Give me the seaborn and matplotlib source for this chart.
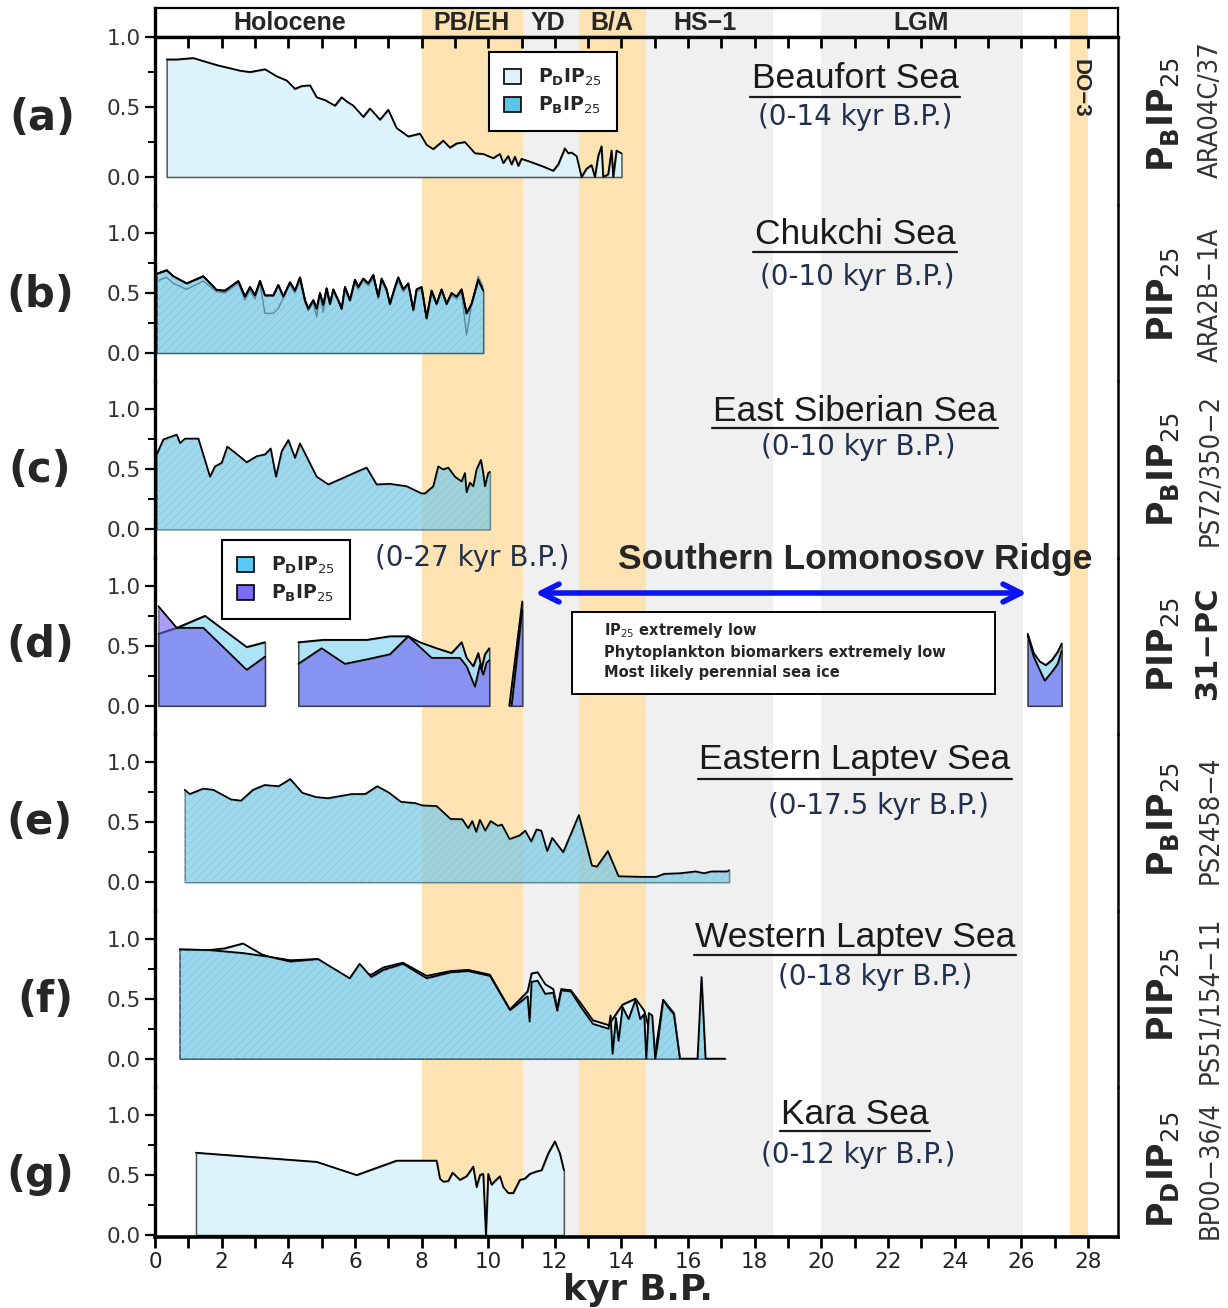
import matplotlib
matplotlib.use('Agg')
import matplotlib.pyplot as plt
import seaborn as sns
from matplotlib.patches import Patch, Rectangle
from matplotlib.lines import Line2D

sns.set_theme(style='white')
plt.rcParams['font.family'] = ['DejaVu Sans']
plt.rcParams['mathtext.fontset'] = 'dejavusans'
plt.rcParams['hatch.linewidth'] = 0.6

# ---------------- data ----------------
epoch_names = ['Holocene', 'PB/EH', 'YD', 'B/A', 'HS\u22121', 'LGM']
epoch_label_x = [4.05, 9.5, 11.8, 13.72, 16.5, 23.0]
band_starts = [8.0, 11.05, 12.72, 14.74, 20.0, 27.45]
band_ends = [11.05, 12.72, 14.74, 18.55, 26.05, 28.0]
band_kinds = ['orange', 'gray', 'orange', 'gray', 'gray', 'orange']

a_x = [0.35,0.65,1.15,1.85,2.55,2.85,3.30,3.65,3.95,4.20,4.40,4.65,4.85,5.10,5.40,5.60,5.75,5.95,6.25,6.45,
       6.75,7.00,7.25,7.60,7.95,8.15,8.35,8.65,8.85,9.05,9.30,9.60,9.85,10.15,10.35,10.45,10.60,10.70,10.80,10.90,
       11.00,11.25,11.65,11.95,12.10,12.30,12.40,12.50,12.65,12.80,12.95,13.10,13.20,13.30,13.40,13.45,13.60,13.70,13.75,13.85,
       13.95,14.00]
a_pd = [0.84,0.84,0.85,0.80,0.76,0.75,0.77,0.72,0.69,0.63,0.65,0.655,0.57,0.55,0.51,0.57,0.54,0.51,0.43,0.49,
        0.41,0.48,0.35,0.29,0.31,0.23,0.20,0.26,0.21,0.24,0.25,0.17,0.165,0.135,0.165,0.10,0.15,0.09,0.145,0.08,
        0.13,0.11,0.075,0.045,0.09,0.205,0.17,0.175,0.15,0.0,0.06,0.085,0.0,0.15,0.22,0.0,0.02,0.19,0.0,0.19,
        0.175,0.17]

b_x = [0.05,0.35,0.55,0.95,1.45,1.85,2.10,2.50,2.70,2.85,3.00,3.15,3.30,3.55,3.70,3.85,4.05,4.20,4.35,4.50,
       4.60,4.75,4.85,4.95,5.05,5.15,5.25,5.35,5.50,5.60,5.70,5.85,6.00,6.10,6.25,6.40,6.55,6.70,6.80,6.95,
       7.05,7.20,7.30,7.45,7.60,7.75,7.85,8.00,8.15,8.30,8.45,8.60,8.75,8.90,9.05,9.20,9.35,9.50,9.70,9.85]
b_pip1 = [0.66,0.69,0.64,0.58,0.64,0.525,0.52,0.60,0.47,0.55,0.48,0.60,0.48,0.48,0.567,0.47,0.59,0.52,0.63,0.44,
          0.37,0.44,0.37,0.50,0.40,0.54,0.41,0.53,0.44,0.37,0.55,0.44,0.61,0.55,0.62,0.58,0.65,0.47,0.62,0.53,
          0.41,0.55,0.63,0.53,0.58,0.36,0.53,0.55,0.29,0.52,0.41,0.53,0.41,0.50,0.47,0.53,0.33,0.41,0.61,0.52]
b_pip2 = [0.60,0.63,0.58,0.53,0.60,0.51,0.50,0.58,0.44,0.52,0.45,0.58,0.33,0.33,0.37,0.46,0.57,0.50,0.60,0.42,
          0.35,0.42,0.30,0.48,0.34,0.52,0.40,0.51,0.43,0.36,0.53,0.43,0.58,0.53,0.60,0.56,0.62,0.45,0.60,0.51,
          0.40,0.53,0.60,0.51,0.56,0.35,0.51,0.53,0.28,0.50,0.40,0.51,0.40,0.48,0.45,0.50,0.15,0.40,0.64,0.55]

c_x = [0.05,0.25,0.65,0.75,0.90,1.30,1.65,1.80,2.00,2.17,2.40,2.75,3.05,3.30,3.47,3.63,3.80,4.00,4.20,4.35,
       4.85,5.20,5.65,6.05,6.35,6.65,7.05,7.55,8.00,8.10,8.35,8.50,8.65,8.80,9.00,9.20,9.30,9.35,9.45,9.55,
       9.65,9.78,9.85,9.90,10.00,10.05]
c_pb = [0.625,0.75,0.79,0.72,0.757,0.757,0.44,0.525,0.555,0.69,0.64,0.56,0.61,0.625,0.675,0.44,0.65,0.745,0.597,0.717,
        0.44,0.375,0.43,0.48,0.515,0.375,0.38,0.36,0.30,0.30,0.36,0.525,0.50,0.515,0.44,0.40,0.47,0.31,0.39,0.36,
        0.50,0.58,0.47,0.36,0.47,0.48]

d1_x_pd = [0.10, 0.65, 1.50, 2.75, 3.30]
d1_pd = [0.60, 0.65, 0.75, 0.49, 0.53]
d1_x_pb = [0.10, 0.65, 1.45, 2.75, 3.30]
d1_pb = [0.83, 0.65, 0.65, 0.30, 0.41]
d2_x_pd = [4.30,5.05,6.35,7.05,7.60,7.95,8.45,8.90,9.20,9.35,9.55,9.70,9.80,9.90,10.03]
d2_pd = [0.53,0.55,0.55,0.58,0.58,0.53,0.48,0.44,0.53,0.40,0.33,0.44,0.31,0.43,0.48]
d2_x_pb = [4.30,5.00,5.70,6.40,7.05,7.60,8.30,9.15,9.35,9.60,9.75,9.85,9.95,10.03]
d2_pb = [0.35,0.48,0.35,0.39,0.43,0.58,0.40,0.40,0.33,0.16,0.34,0.26,0.36,0.38]
d3_x_pd = [10.63, 11.02]
d3_pd = [0.0, 0.87]
d3_x_pb = [10.70, 11.02]
d3_pb = [0.0, 0.80]
d4_x_pd = [26.19,26.37,26.55,26.73,26.91,27.09,27.21]
d4_pd = [0.60,0.44,0.37,0.34,0.38,0.45,0.52]
d4_x_pb = [26.19,26.37,26.55,26.70,26.91,27.09,27.21]
d4_pb = [0.59,0.41,0.30,0.21,0.28,0.35,0.46]

e_x = [0.89,1.04,1.45,1.75,2.28,2.58,2.94,3.29,3.71,4.06,4.42,4.83,5.19,5.90,6.31,6.67,7.03,7.38,7.80,8.03,
       8.45,8.87,9.22,9.40,9.52,9.64,9.75,9.91,10.07,10.29,10.41,10.64,10.94,11.11,11.29,11.45,11.59,11.77,11.92,12.25,
       12.72,13.11,13.26,13.59,13.91,14.57,15.04,15.28,15.76,16.23,16.47,16.71,17.18,17.23]
e_pb = [0.77,0.735,0.78,0.77,0.69,0.68,0.77,0.81,0.80,0.86,0.745,0.71,0.70,0.735,0.735,0.80,0.745,0.67,0.66,0.64,
        0.635,0.527,0.525,0.45,0.51,0.42,0.52,0.43,0.51,0.47,0.48,0.36,0.39,0.43,0.34,0.44,0.43,0.26,0.37,0.25,
        0.56,0.14,0.13,0.26,0.05,0.045,0.045,0.07,0.075,0.09,0.075,0.09,0.09,0.10]

f_x = [0.74,1.63,2.64,3.41,4.06,4.89,5.84,6.14,6.49,6.85,7.44,8.15,8.87,9.40,10.05,10.65,11.18,11.24,11.30,11.48,
       11.71,11.95,12.07,12.19,12.48,12.78,13.14,13.61,13.67,13.73,13.83,13.91,14.03,14.21,14.42,14.56,14.68,14.74,14.82,14.92,
       15.01,15.09,15.25,15.39,15.57,15.75,16.28,16.40,16.52,17.11]
f_pip = [0.91,0.905,0.88,0.85,0.81,0.83,0.67,0.79,0.68,0.74,0.79,0.67,0.72,0.73,0.69,0.405,0.52,0.31,0.64,0.65,
         0.54,0.55,0.40,0.57,0.56,0.43,0.29,0.25,0.36,0.04,0.34,0.15,0.43,0.33,0.49,0.33,0.37,0.0,0.38,0.36,
         0.0,0.14,0.49,0.43,0.37,0.0,0.0,0.68,0.0,0.0]
f_x2 = [0.74,1.63,2.10,2.64,3.20,3.41,4.06,4.89,5.84,6.14,6.49,6.85,7.44,8.15,8.87,9.40,10.05,10.65,11.18,11.30,
        11.48,11.71,11.95,12.07,12.19,12.48,12.78,13.14,13.61,13.83,14.03,14.42,14.68,15.01,15.25,15.57,15.75]
f_pip2 = [0.91,0.905,0.92,0.96,0.87,0.85,0.82,0.83,0.66,0.72,0.70,0.76,0.80,0.69,0.73,0.74,0.70,0.41,0.56,0.71,
          0.72,0.62,0.58,0.42,0.58,0.57,0.46,0.32,0.28,0.37,0.45,0.50,0.40,0.05,0.49,0.38,0.0]

g_x = [1.23,4.85,6.05,7.25,8.45,8.55,8.65,8.80,8.93,9.15,9.35,9.55,9.65,9.75,9.85,9.93,10.00,10.10,10.20,10.35,
       10.45,10.60,10.75,10.95,11.10,11.25,11.45,11.60,11.80,12.00,12.15,12.27]
g_pd = [0.686,0.61,0.50,0.62,0.62,0.47,0.445,0.45,0.52,0.46,0.49,0.57,0.40,0.50,0.51,0.0,0.51,0.42,0.45,0.49,
        0.40,0.35,0.35,0.46,0.47,0.51,0.53,0.54,0.68,0.78,0.68,0.54]

panel_letters = ['(a)', '(b)', '(c)', '(d)', '(e)', '(f)', '(g)']
proxy_labels = [r'$\mathbf{P_{B}IP}_{25}$', r'$\mathbf{PIP}_{25}$', r'$\mathbf{P_{B}IP}_{25}$', r'$\mathbf{PIP}_{25}$',
                r'$\mathbf{P_{B}IP}_{25}$', r'$\mathbf{PIP}_{25}$', r'$\mathbf{P_{D}IP}_{25}$']
core_labels = ['ARA04C/37', 'ARA2B\u22121A', 'PS72/350\u22122', '31\u2212PC', 'PS2458\u22124', 'PS51/154\u221211', 'BP00\u221236/4']
titles = ['Beaufort Sea', 'Chukchi Sea', 'East Siberian Sea', None, 'Eastern Laptev Sea', 'Western Laptev Sea', 'Kara Sea']
ranges = ['(0-14 kyr B.P.)', '(0-10 kyr B.P.)', '(0-10 kyr B.P.)', '(0-27 kyr B.P.)',
          '(0-17.5 kyr B.P.)', '(0-18 kyr B.P.)', '(0-12 kyr B.P.)']
box_lines = [r'IP$_{25}$ extremely low', 'Phytoplankton biomarkers extremely low', 'Most likely perennial sea ice']
x_ticks_major = list(range(0, 29, 2))
x_ticks_minor = list(range(1, 29, 2))

# ---------------- styling ----------------
W, H = 1228, 1308
PXK = 33.32
X0 = 155
XMAX = 963 / PXK
ORANGE = '#fee3b2'
GRAY = '#f0f0f0'
LIGHT = '#ddf3fc'
MED = '#9bd7ec'
NAVY = '#22304f'

fig = plt.figure(figsize=(W / 100, H / 100), dpi=100)


def fx(px):
    return px / W


def fy(py):
    return 1 - py / H


def px_axes(top, bottom):
    return fig.add_axes([X0 / W, 1 - bottom / H, 963 / W, (bottom - top) / H])


def shade(ax):
    for s, e, k in zip(band_starts, band_ends, band_kinds):
        ax.axvspan(s, e, color=ORANGE if k == 'orange' else GRAY, lw=0, zorder=0)


def base_style(ax, ylim):
    ax.set_facecolor('none')
    ax.set_xlim(0, XMAX)
    ax.set_ylim(*ylim)
    for sp in ax.spines.values():
        sp.set_visible(False)
    ax.spines['left'].set_visible(True)
    ax.spines['left'].set_linewidth(2.4)
    ax.spines['left'].set_color('black')
    ax.spines['right'].set_visible(True)
    ax.spines['right'].set_linewidth(1.8)
    ax.spines['right'].set_color('black')
    ax.set_yticks([0, 0.5, 1.0])
    ax.set_yticklabels(['0.0', '0.5', '1.0'])
    ax.set_yticks([0.25, 0.75], minor=True)
    ax.tick_params(axis='y', which='major', direction='out', length=7, width=1.6, left=True, right=False,
                   labelsize=15.5, labelcolor='#333333', color='black', pad=3)
    ax.tick_params(axis='y', which='minor', direction='out', length=5, width=1.4, left=True, right=False, color='black')
    ax.set_xticks([])
    ax.set_xlabel('')
    ax.set_ylabel('')


def area(ax, x, y, fc, ec='#555555', alpha=1.0, line='black', lw=1.2, z=2, hatch=None):
    ax.fill_between(x, 0, y, facecolor=fc, edgecolor=ec, linewidth=1.1, alpha=alpha, zorder=z)
    if hatch is not None:
        ax.fill_between(x, 0, y, facecolor='none', edgecolor=hatch, hatch='////', linewidth=0, zorder=z + 0.2)
    sns.lineplot(x=x, y=y, ax=ax, color=line, linewidth=lw, estimator=None, sort=False, legend=False, zorder=z + 0.5)


# header
hdr = px_axes(8, 37)
hdr.set_facecolor('none')
shade(hdr)
hdr.set_xlim(0, XMAX)
hdr.set_ylim(0, 1)
hdr.set_xticks([])
hdr.set_yticks([])
for k, sp in hdr.spines.items():
    sp.set_color('black')
    sp.set_linewidth(1.6)
hdr.spines['left'].set_linewidth(2.4)
for name, xp in zip(epoch_names, epoch_label_x):
    hdr.text(xp, 0.5, name, ha='center', va='center', fontsize=18, fontweight='bold',
             family=['Liberation Sans', 'DejaVu Sans'])

# panel geometry
axes = []
ax_a = px_axes(37, 205)
axes.append(ax_a)
zeros = [353 + 176.4 * i for i in range(6)]
for i, z in enumerate(zeros):
    top = z - 148
    bottom = z + 28.4 if i < 5 else 1237
    axes.append(px_axes(top, bottom))

for i, ax in enumerate(axes):
    shade(ax)
    if i == 0:
        base_style(ax, (-0.2, 1.0))
    elif i < 6:
        base_style(ax, (-28.4 / 120, 148 / 120))
    else:
        base_style(ax, (-2 / 120, 148 / 120))

# top ticks of panel a
ax_a.spines['top'].set_visible(True)
ax_a.spines['top'].set_linewidth(2.4)
ax_a.spines['top'].set_color('black')
ax_a.set_xticks(list(range(0, 29)))
ax_a.tick_params(axis='x', which='major', top=True, bottom=False, direction='in', length=8, width=2,
                 labeltop=False, labelbottom=False, color='black')

# bottom axis panel g
ax_g = axes[6]
ax_g.spines['bottom'].set_visible(True)
ax_g.spines['bottom'].set_linewidth(2.6)
ax_g.spines['bottom'].set_color('black')
ax_g.set_xticks(x_ticks_major)
ax_g.set_xticklabels([str(v) for v in x_ticks_major])
ax_g.set_xticks(x_ticks_minor, minor=True)
ax_g.tick_params(axis='x', which='both', bottom=True, direction='out', length=8, width=2, color='black',
                 labelsize=15.5, labelcolor='#222222', pad=3)

# ---- data drawing ----
HATCH = '#86c6dc'
area(axes[0], a_x, a_pd, LIGHT)
area(axes[1], b_x, b_pip1, MED, ec='#3f6070', hatch=HATCH)
sns.lineplot(x=b_x, y=b_pip2, ax=axes[1], color='#5a8aa0', linewidth=1.0, estimator=None, sort=False,
             legend=False, zorder=2.4)
sns.lineplot(x=b_x, y=b_pip1, ax=axes[1], color='black', linewidth=1.3, estimator=None, sort=False,
             legend=False, zorder=2.6)
area(axes[2], c_x, c_pb, '#7ccbe6', ec='#3f6070', alpha=0.72, hatch='#8cc8dc')
ax_d = axes[3]
for xs, ys in [(d1_x_pd, d1_pd), (d2_x_pd, d2_pd), (d3_x_pd, d3_pd), (d4_x_pd, d4_pd)]:
    area(ax_d, xs, ys, '#a5dff7', ec='#333333', alpha=0.9, z=2)
for xs, ys in [(d1_x_pb, d1_pb), (d2_x_pb, d2_pb), (d3_x_pb, d3_pb), (d4_x_pb, d4_pb)]:
    area(ax_d, xs, ys, '#7060f0', ec='#333333', alpha=0.6, z=3)
area(axes[4], e_x, e_pb, '#7ccbe6', ec='#3f6070', alpha=0.72, hatch='#8cc8dc')
area(axes[5], f_x2, f_pip2, LIGHT, ec='#3f6070', z=2)
area(axes[5], f_x, f_pip, MED, ec='#3f6070', z=3, hatch=HATCH)
area(axes[6], g_x, g_pd, LIGHT, ec='#555555')

# arrow in panel d
ax_d.annotate('', xy=((535 - X0) / PXK, 0.94), xytext=((1027 - X0) / PXK, 0.94),
              arrowprops=dict(arrowstyle='<->', color='#0a14f0', lw=4, mutation_scale=32, shrinkA=0, shrinkB=0),
              zorder=6)

for ax in axes:
    ax.set_xlim(0, XMAX)
    ax.set_xlabel('')
    ax.set_ylabel('')
axes[0].set_ylim(-0.2, 1.0)
for ax in axes[1:6]:
    ax.set_ylim(-28.4 / 120, 148 / 120)
axes[6].set_ylim(-2 / 120, 148 / 120)

# DO-3
fig.text(fx(1080), fy(88), 'DO\u22123', rotation=-90, ha='center', va='center', fontsize=16, fontweight='bold',
         family=['Liberation Sans', 'DejaVu Sans'])

# panel letters and right labels
letter_y = [118, 295, 470, 645, 822, 1000, 1175]
letter_x = [42, 40, 40, 40, 40, 45, 40]
proxy_y = [115, 295, 470, 645, 820, 995, 1170]
core_y = [110, 295, 470, 643, 820, 1000, 1170]
for i in range(7):
    fig.text(fx(letter_x[i]), fy(letter_y[i]), panel_letters[i], ha='center', va='center', fontsize=30,
             fontweight='bold')
    fig.text(fx(1163), fy(proxy_y[i]), proxy_labels[i], rotation=90, ha='center', va='center', fontsize=25)
    if i == 3:
        fig.text(fx(1208), fy(core_y[i]), core_labels[i], rotation=90, ha='center', va='center', fontsize=22,
                 fontweight='bold')
    else:
        fig.text(fx(1211), fy(core_y[i]), core_labels[i], rotation=90, ha='center', va='center', fontsize=19.5,
                 color='#333333', family=['DejaVu Sans'], fontstretch='condensed')

# titles
title_pos = [(855, 79), (855, 235), (855, 411), None, (855, 760), (855, 937), (855, 1114)]
under_y = [97, 252, 428, None, 779, 955, 1131]
sub_pos = [(855, 117), (857, 277), (858, 447), (472, 558), (878, 806), (875, 977), (858, 1155)]
title_objs = []
for i in range(7):
    if titles[i] is not None:
        t = fig.text(fx(title_pos[i][0]), fy(title_pos[i][1]), titles[i], ha='center', va='center', fontsize=25.5,
                     family=['Liberation Sans', 'DejaVu Sans'], color='#1a1a1a')
        title_objs.append((t, under_y[i]))
    fig.text(fx(sub_pos[i][0]), fy(sub_pos[i][1]), ranges[i], ha='center', va='center', fontsize=20, color=NAVY)
fig.text(fx(855), fy(560), 'Southern Lomonosov Ridge', ha='center', va='center', fontsize=25.5, fontweight='bold',
         family=['Liberation Sans', 'DejaVu Sans'])

# annotation box in panel d
fig.add_artist(Rectangle((fx(572), fy(694)), (995 - 572) / W, (694 - 612) / H, transform=fig.transFigure,
                         facecolor='white', edgecolor='black', linewidth=1.4, zorder=4))
for j, ln in enumerate(box_lines):
    fig.text(fx(604), fy(631 + 21 * j), ln, ha='left', va='center', fontsize=10.5, fontweight='bold', zorder=5)

# legends
leg_a = fig.legend(handles=[Patch(facecolor=LIGHT, edgecolor='black', lw=1.2),
                            Patch(facecolor='#5cc5e5', edgecolor='black', lw=1.2)],
                   labels=[r'$\mathbf{P_{D}IP}_{25}$', r'$\mathbf{P_{B}IP}_{25}$'],
                   loc='upper left', bbox_to_anchor=(fx(489), fy(52)), borderaxespad=0, fontsize=13.5,
                   handlelength=0.9, handleheight=0.9, handletextpad=0.9, borderpad=0.8, labelspacing=0.35,
                   frameon=True, fancybox=False, edgecolor='black', framealpha=1)
leg_a.get_frame().set_linewidth(1.5)
leg_d = fig.legend(handles=[Patch(facecolor='#5bc8f5', edgecolor='black', lw=1.2),
                            Patch(facecolor='#7b6cf6', edgecolor='black', lw=1.2)],
                   labels=[r'$\mathbf{P_{D}IP}_{25}$', r'$\mathbf{P_{B}IP}_{25}$'],
                   loc='upper left', bbox_to_anchor=(fx(222), fy(540)), borderaxespad=0, fontsize=13.5,
                   handlelength=0.9, handleheight=0.9, handletextpad=0.9, borderpad=0.8, labelspacing=0.35,
                   frameon=True, fancybox=False, edgecolor='black', framealpha=1)
leg_d.get_frame().set_linewidth(1.5)

# x label
fig.text(fx(638), fy(1290), 'kyr B.P.', ha='center', va='center', fontsize=25.5, fontweight='bold')

# underline titles
fig.canvas.draw()
r = fig.canvas.get_renderer()
for t, uy in title_objs:
    bb = t.get_window_extent(r)
    fig.add_artist(Line2D([bb.x0 / W - 0.001, bb.x1 / W + 0.001], [fy(uy), fy(uy)], color='#1a1a1a', lw=1.6,
                          transform=fig.transFigure))

fig.savefig('out.png', dpi=100)
